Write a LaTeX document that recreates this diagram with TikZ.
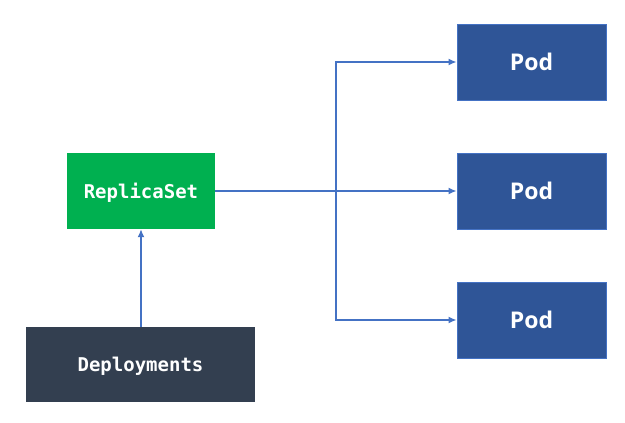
\documentclass[tikz,border=0pt]{standalone}
\usepackage{fontspec}
\usepackage{tikz}
\usepackage{xcolor}
\usetikzlibrary{arrows.meta}
\newfontfamily\podfont{Open Sans}
\newfontfamily\codefont{DejaVu Sans Mono}

\definecolor{rsgreen}{HTML}{00B050}
\definecolor{depdark}{HTML}{333F50}
\definecolor{podblue}{HTML}{2F5597}
\definecolor{linkblue}{HTML}{4472C4}

\begin{document}
\begin{tikzpicture}
  [x=1pt,y=-1pt,
   box/.style={rectangle,inner sep=0pt,text=white,text depth=0pt},
   podbox/.style={box,fill=podblue,draw=linkblue,line width=.8pt,
     minimum width=149pt,minimum height=76pt,
     font=\podfont\bfseries\fontsize{23}{27}\selectfont},
   codebox/.style={box,font=\codefont\bfseries\fontsize{19}{23}\selectfont},
   link/.style={draw=linkblue,line width=1.5pt,-{Latex[length=8pt,width=7pt]}}]

  \useasboundingbox (0,0) rectangle (625,423);

  \node[codebox,fill=rsgreen,minimum width=148pt,minimum height=76pt] (rs) at (141,191) {ReplicaSet};
  \node[codebox,fill=depdark,minimum width=229pt,minimum height=75pt] (dep) at (140.5,364.5) {Deployments};
  \node[podbox] (p1) at (531.5,62) {Pod};
  \node[podbox] (p2) at (531.5,191) {Pod};
  \node[podbox] (p3) at (531.5,320) {Pod};

  \coordinate (j) at (336,191);

  \draw[link] (dep.north -| rs.south) -- (rs.south);
  \draw[link] (rs.east) -- (p2.west);
  \foreach \to in {p1,p3}
    \draw[link] (j) |- (\to.west);
\end{tikzpicture}
\end{document}
